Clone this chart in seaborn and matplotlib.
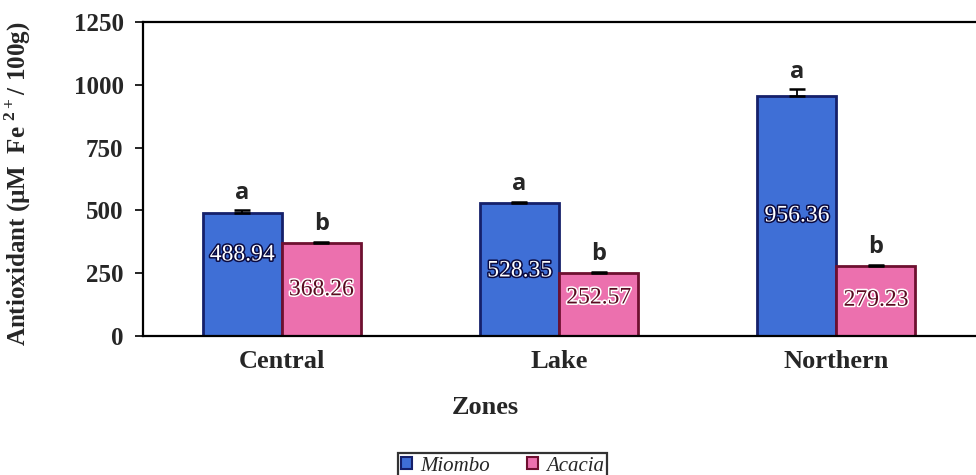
import matplotlib
matplotlib.use("Agg")
import matplotlib.pyplot as plt
import matplotlib.patheffects as pe
import seaborn as sns
import pandas as pd

zones = ["Central", "Lake", "Northern"]
species = ["Miombo", "Acacia"]
miombo = [488.94, 528.35, 956.36]
acacia = [368.26, 252.57, 279.23]
miombo_err = [12, 6, 25]
acacia_err = [6, 4, 5]
miombo_letters = ["a", "a", "a"]
acacia_letters = ["b", "b", "b"]
yticks = [0, 250, 500, 750, 1000, 1250]

df = pd.DataFrame({
    "Zone": zones * 2,
    "Species": ["Miombo"] * 3 + ["Acacia"] * 3,
    "Value": miombo + acacia,
})

sns.set_theme(style="white")
plt.rcParams["font.family"] = ["Liberation Serif", "DejaVu Serif"]
plt.rcParams["mathtext.fontset"] = "custom"
plt.rcParams["mathtext.rm"] = "Liberation Serif:bold"
plt.rcParams["mathtext.bf"] = "Liberation Serif:bold"

fig = plt.figure(figsize=(9.76, 4.75), dpi=100)
ax = fig.add_axes([143/976, 1-336/475, 832/976, 314/475])

palette = {"Miombo": "#3f6fd6", "Acacia": "#ec70ae"}
edges = {"Miombo": "#15206a", "Acacia": "#6e1030"}
sns.barplot(data=df, x="Zone", y="Value", hue="Species", order=zones,
            hue_order=species, palette=palette, width=0.57, errorbar=None,
            ax=ax, legend=True, saturation=1)

label_frac = {"Miombo": [0.66, 0.49, 0.5], "Acacia": [0.5, 0.6, 0.51]}
for cont, sp, vals, errs, letters in zip(ax.containers, species,
                                         [miombo, acacia], [miombo_err, acacia_err],
                                         [miombo_letters, acacia_letters]):
    for i, bar in enumerate(cont):
        bar.set_edgecolor(edges[sp])
        bar.set_linewidth(2)
        cx = bar.get_x() + bar.get_width() / 2
        h = bar.get_height()
        ax.errorbar(cx, h, yerr=[[0], [errs[i]]], fmt="none", ecolor="black",
                    capsize=5.5, elinewidth=1.3, capthick=1.8)
        ax.annotate(letters[i], (cx, h + errs[i]), xytext=(0, 4),
                    textcoords="offset points", ha="center", va="bottom",
                    fontsize=17, fontweight="bold", family=["Open Sans", "DejaVu Sans"])
        if sp == "Miombo":
            tc, sc = "white", "#0a0a40"
        else:
            tc, sc = "#5a0a20", "white"
        t = ax.text(cx, h * label_frac[sp][i], f"{vals[i]:.2f}", ha="center",
                    va="center", fontsize=17, color=tc)
        t.set_path_effects([pe.withStroke(linewidth=2.2, foreground=sc)])

ax.set_xlim(-0.5, 2.5)
ax.set_ylim(0, 1250)
ax.set_yticks(yticks)
ax.set_yticklabels([str(v) for v in yticks], fontsize=18, fontweight="bold")
ax.set_xticks(range(3))
ax.set_xticklabels(zones, fontsize=19, fontweight="bold")
ax.set_xticks([-0.5, 0.5, 1.5], minor=True)
ax.tick_params(axis="x", which="major", length=0, pad=10)
ax.tick_params(axis="x", which="minor", length=5, width=1.2, color="black", direction="out")
ax.tick_params(axis="y", which="major", length=6, width=1.2, color="black",
               direction="out", left=True, pad=8)

for s in ["left", "bottom", "top"]:
    ax.spines[s].set_visible(True)
    ax.spines[s].set_color("black")
    ax.spines[s].set_linewidth(1.6)
ax.spines["right"].set_visible(False)

ax.set_xlabel("Zones", fontsize=19, fontweight="bold")
ax.xaxis.set_label_coords((485-143)/832, -0.19)
ax.set_ylabel(r"Antioxidant (µM  Fe $^{2+}$/ 100g)", fontsize=18, fontweight="bold")
ax.yaxis.set_label_coords(-0.132, 0.484)

leg = ax.get_legend()
handles = leg.legend_handles
leg.remove()
for hnd, sp in zip(handles, species):
    hnd.set_edgecolor(edges[sp])
    hnd.set_linewidth(1.5)
lg = fig.legend(handles, species, loc="upper center", bbox_to_anchor=(0.515, 1-443/475),
                ncol=2, frameon=True, fancybox=False, edgecolor="black",
                prop={"family": "Liberation Serif", "style": "italic", "size": 15},
                handlelength=0.5, handleheight=0.5, handletextpad=0.4, columnspacing=1.8,
                borderpad=0.15)
lg.get_frame().set_linewidth(1.6)

fig.savefig("out.png", dpi=100)
